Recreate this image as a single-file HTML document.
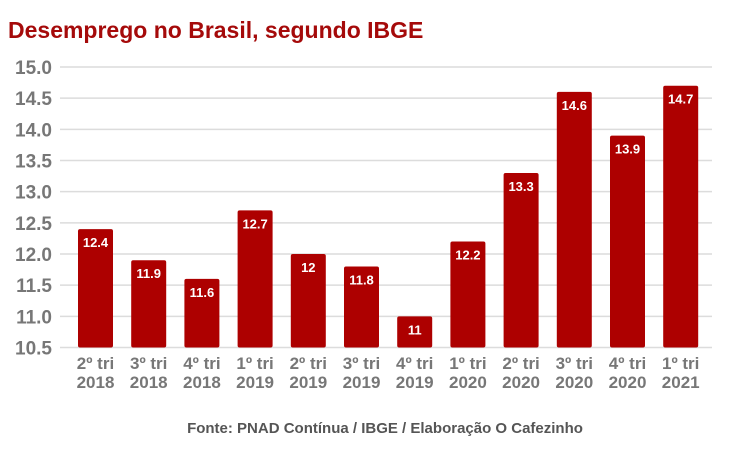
<!DOCTYPE html>
<html><head><meta charset="utf-8"><style>
body{margin:0;background:#fff;}
svg text{font-family:"Liberation Sans",sans-serif;}
</style></head><body>
<svg width="729" height="449" xmlns="http://www.w3.org/2000/svg">
<text x="8" y="38" font-size="23" font-weight="bold" fill="#a50a0a">Desemprego no Brasil, segundo IBGE</text>
<g id="grid"></g><g id="bars"></g><g id="xl"></g>
<text x="385" y="433" text-anchor="middle" font-size="15" font-weight="bold" fill="#555">Fonte: PNAD Contínua / IBGE / Elaboração O Cafezinho</text>
</svg>
<script>
const categories=["2º tri|2018","3º tri|2018","4º tri|2018","1º tri|2019","2º tri|2019","3º tri|2019","4º tri|2019","1º tri|2020","2º tri|2020","3º tri|2020","4º tri|2020","1º tri|2021"];
const values=[12.4,11.9,11.6,12.7,12,11.8,11,12.2,13.3,14.6,13.9,14.7];
const valueLabels=["12.4","11.9","11.6","12.7","12","11.8","11","12.2","13.3","14.6","13.9","14.7"];
const ticks=[10.5,11.0,11.5,12.0,12.5,13.0,13.5,14.0,14.5,15.0];
const NS="http://www.w3.org/2000/svg";
const y=v=>347.5-(v-10.5)*(280.5/4.5);
const x=i=>78+i*53.2;
const bw=35;
function mk(t,a,p){const e=document.createElementNS(NS,t);for(const k in a)e.setAttribute(k,a[k]);p.appendChild(e);return e;}
const g=document.getElementById('grid');
ticks.forEach(t=>{
 const l=mk('line',{x1:60,x2:712,y1:y(t),y2:y(t),stroke:'#dcdcdc','stroke-width':1.5},g);
 
 
 const tx=mk('text',{x:52,y:y(t)+7,'text-anchor':'end','font-size':19,'font-weight':'bold',fill:'#777'},g);
 tx.textContent=t.toFixed(1);
 
 
});
const b=document.getElementById('bars'),xl=document.getElementById('xl');
values.forEach((v,i)=>{
 const r=mk('rect',{x:x(i),y:y(v),width:bw,height:y(10.5)-y(v),fill:'#ad0000',rx:2},b);
 
 
 const t=mk('text',{x:x(i)+bw/2,y:y(v)+18,'text-anchor':'middle','font-size':13,'font-weight':'bold',fill:'#fff'},b);
 t.textContent=valueLabels[i];
 
 
 const p=categories[i].split('|');
 p.forEach((s,j)=>{
  const c=mk('text',{x:x(i)+bw/2,y:369+j*19,'text-anchor':'middle','font-size':17,'font-weight':'bold',fill:'#777'},xl);
  c.textContent=s;
  
  
 });
});
</script>
</body></html>
